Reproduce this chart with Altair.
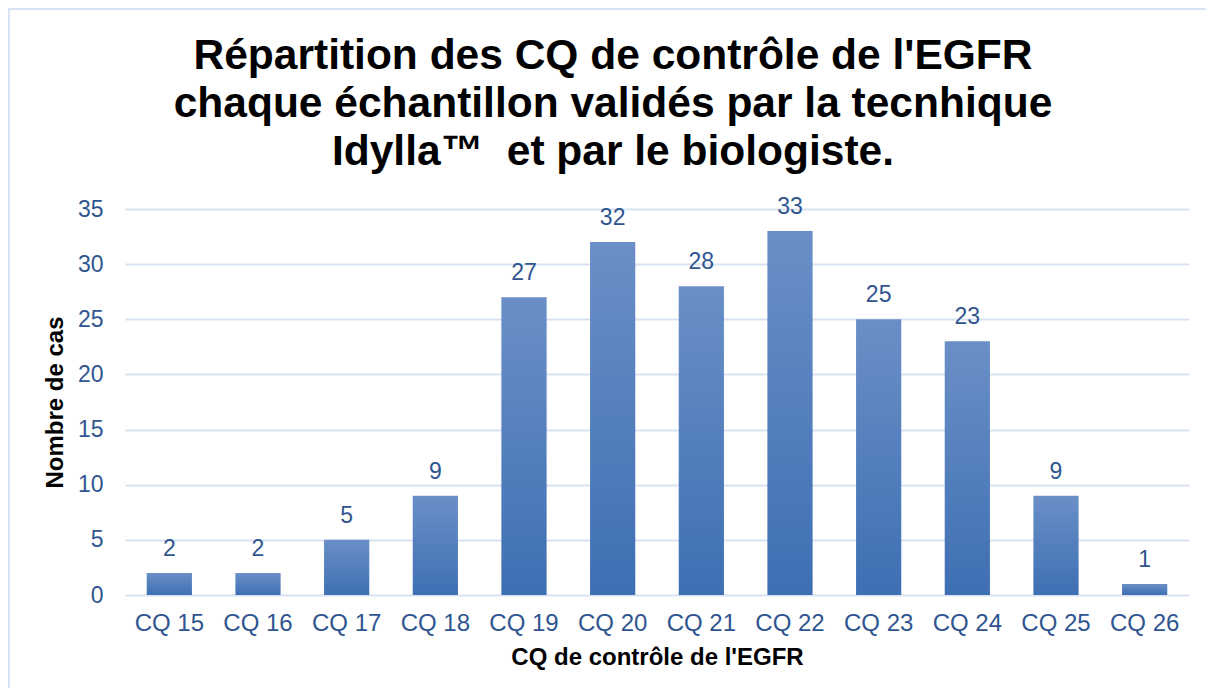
import altair as alt
import pandas as pd

categories = ["CQ 15", "CQ 16", "CQ 17", "CQ 18", "CQ 19", "CQ 20",
              "CQ 21", "CQ 22", "CQ 23", "CQ 24", "CQ 25", "CQ 26"]
counts = [2, 2, 5, 9, 27, 32, 28, 33, 25, 23, 9, 1]
title_lines = ["Répartition des CQ de contrôle de l'EGFR",
               "chaque échantillon validés par la tecnhique",
               "Idylla™ \u00a0et par le biologiste."]
y_ticks = [0, 5, 10, 15, 20, 25, 30, 35]

df = pd.DataFrame({"cat": categories, "n": counts})
one = pd.DataFrame({"k": [0]})
FONT = "Liberation Sans"
LABEL_COLOR = "#2F5590"

x_enc = alt.X("cat:N", sort=categories,
              scale=alt.Scale(paddingInner=0.49, paddingOuter=0.245),
              axis=alt.Axis(title="CQ de contrôle de l'EGFR", labelAngle=0,
                            labelFontSize=24, labelColor=LABEL_COLOR,
                            labelPadding=16, domain=False, ticks=False,
                            titleFontSize=24, titleFontWeight="bold",
                            titleColor="#000000", titlePadding=10))
y_enc = alt.Y("n:Q", scale=alt.Scale(domain=[0, 35], nice=False),
              axis=alt.Axis(title="Nombre de cas", values=y_ticks,
                            labelFontSize=23, labelColor=LABEL_COLOR,
                            labelPadding=22, domain=False, ticks=False,
                            tickSize=0, gridColor="#D9E2F3", gridWidth=2,
                            titleFontSize=24, titleFontWeight="bold",
                            titleColor="#000000", titlePadding=10))

bars = alt.Chart(df).mark_bar(
    color=alt.Gradient(
        gradient="linear",
        stops=[alt.GradientStop(color="#6A8FC7", offset=0),
               alt.GradientStop(color="#3E6FB3", offset=1)],
        x1=0, x2=0, y1=0, y2=1),
).encode(x=x_enc, y=y_enc)

labels = alt.Chart(df).mark_text(
    fontSize=23, color=LABEL_COLOR, dy=-17, baseline="alphabetic", font=FONT
).encode(x=alt.X("cat:N", sort=categories), y="n:Q", text="n:Q")

frame = alt.Chart(one).mark_rect(
    fill=None, stroke="#D6E2F4", strokeWidth=2
).encode(x=alt.value(-116), x2=alt.value(1200), y=alt.value(-200), y2=alt.value(600))

title = alt.Chart(one).mark_text(
    text=title_lines, fontSize=42.5, lineHeight=48, fontWeight="bold",
    color="#000000", font=FONT, align="center", baseline="alphabetic"
).encode(x=alt.value(488), y=alt.value(-140))

chart = alt.layer(frame, bars, labels, title).properties(
    width=1064, height=386,
    autosize=alt.AutoSizeParams(type="none"),
    padding={"left": 117, "top": 201, "right": 17, "bottom": 93},
).configure(font=FONT).configure_view(stroke=None)

chart.save("out.html", embed_options={"renderer": "svg", "actions": False})
